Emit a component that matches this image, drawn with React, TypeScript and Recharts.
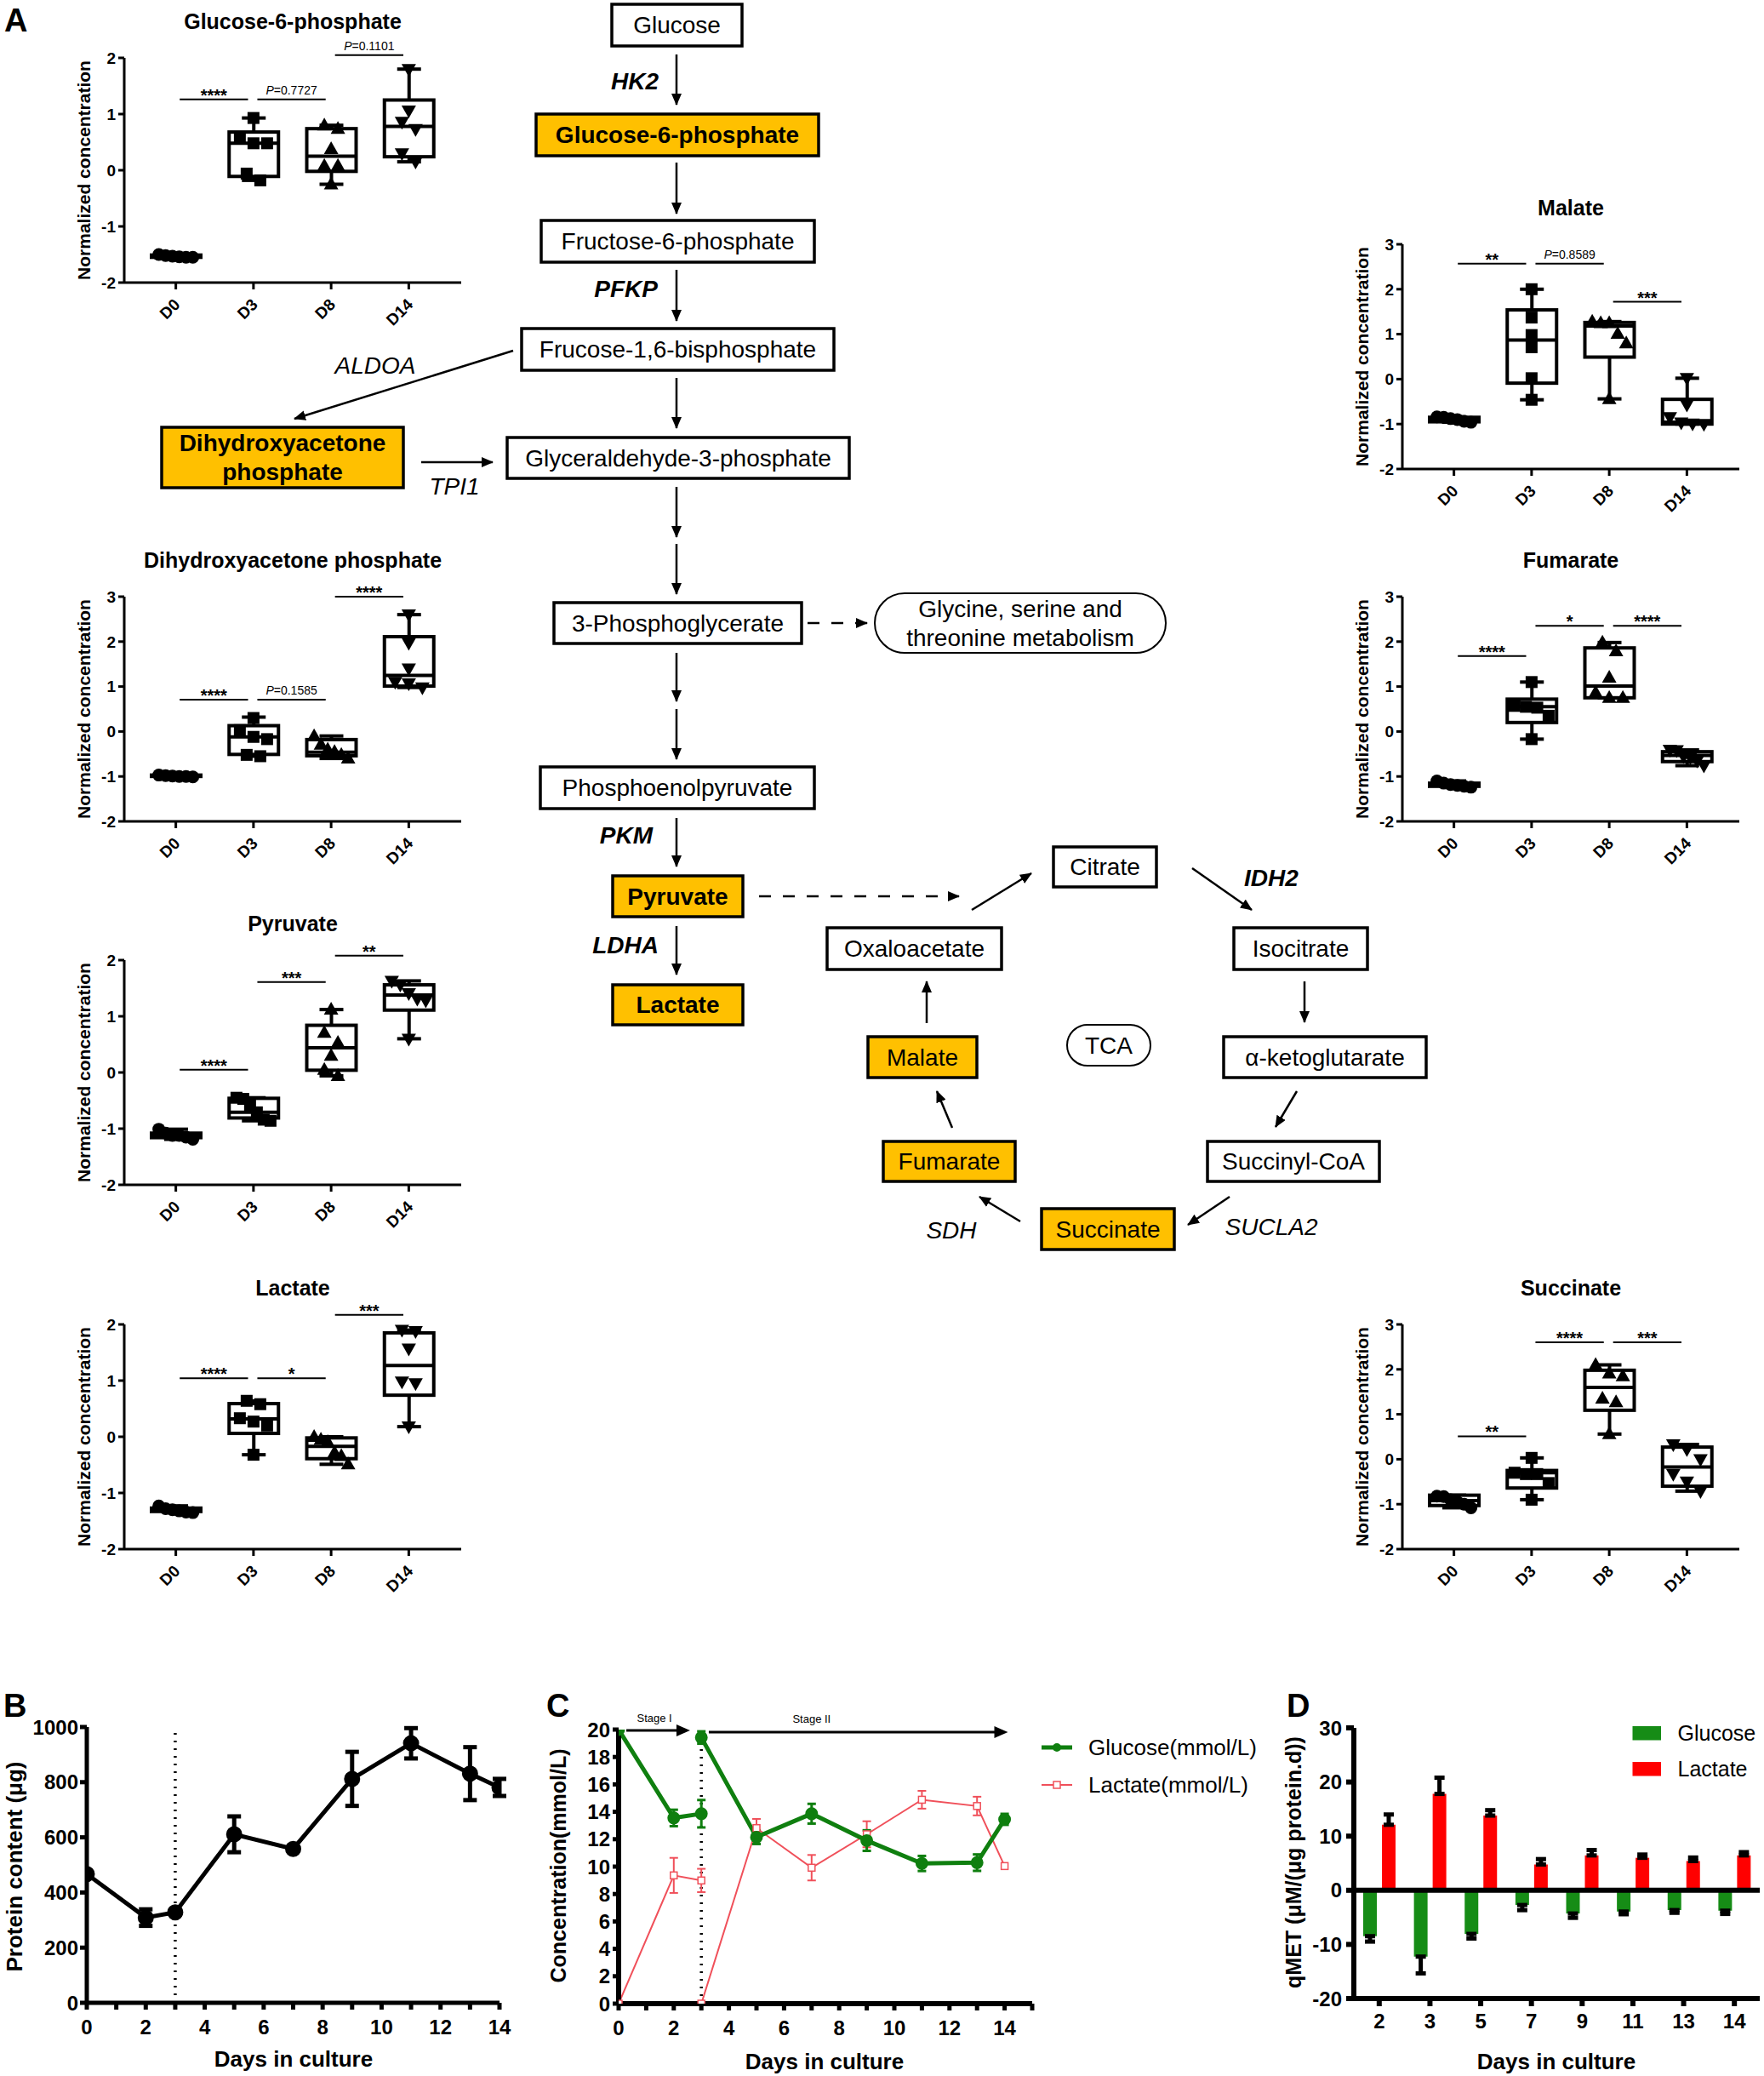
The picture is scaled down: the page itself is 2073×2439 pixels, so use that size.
import React from 'react';
import {
  ComposedChart,
  Bar,
  Scatter,
  XAxis,
  YAxis,
  ReferenceLine,
  ReferenceDot,
  LineChart,
  Line,
  ErrorBar,
  BarChart,
  Legend,
} from 'recharts';

const FONT = '"Liberation Sans", Arial, Helvetica, sans-serif';
const ORANGE = '#FFC000';
const GREEN_C = '#0F7F0F';
const RED_C = '#F0505A';
const GREEN_D = '#168C16';
const RED_D = '#FF0000';

// ---- panel A box plots: points per day, box stats [min, q1, median, q3, max], significance [from, to, y, label]
const days = ['D0', 'D3', 'D8', 'D14'];

const g6pPts = [[-1.5, -1.52, -1.53, -1.54, -1.55, -1.55], [0.93, 0.57, 0.48, 0.48, -0.06, -0.18], [0.8, 0.74, 0.38, 0.08, 0.08, -0.25], [1.8, 1.06, 0.86, 0.73, 0.3, 0.15]];
const g6pBox = [[-1.55, -1.55, -1.53, -1.51, -1.5], [-0.18, -0.11, 0.48, 0.68, 0.93], [-0.25, -0.02, 0.25, 0.74, 0.8], [0.15, 0.24, 0.78, 1.25, 1.8]];
const g6pSig = [[0, 1, 1.26, '****'], [1, 2, 1.26, 'P=0.7727'], [2, 3, 2.05, 'P=0.1101']];

const dhapPts = [[-0.97, -0.98, -0.99, -1.0, -1.0, -1.01], [0.3, 0.03, -0.12, -0.17, -0.52, -0.55], [-0.1, -0.29, -0.4, -0.45, -0.52, -0.6], [2.6, 1.97, 1.4, 1.1, 1.07, 0.98]];
const dhapBox = [[-1.01, -1.0, -0.99, -0.97, -0.97], [-0.55, -0.51, -0.12, 0.13, 0.32], [-0.6, -0.54, -0.46, -0.18, -0.1], [0.98, 1.01, 1.25, 2.11, 2.6]];
const dhapSig = [[0, 1, 0.71, '****'], [1, 2, 0.71, 'P=0.1585'], [2, 3, 3.0, '****']];

const pyrPts = [[-1.01, -1.08, -1.12, -1.12, -1.15, -1.19], [-0.45, -0.47, -0.59, -0.71, -0.84, -0.86], [1.12, 0.71, 0.53, 0.3, 0.05, -0.06], [1.63, 1.56, 1.41, 1.31, 1.28, 0.6]];
const pyrBox = [[-1.19, -1.16, -1.12, -1.08, -1.01], [-0.86, -0.81, -0.71, -0.46, -0.45], [-0.06, 0.04, 0.44, 0.84, 1.12], [0.6, 1.11, 1.38, 1.56, 1.63]];
const pyrSig = [[0, 1, 0.05, '****'], [1, 2, 1.61, '***'], [2, 3, 2.08, '**']];

const lacPts = [[-1.23, -1.28, -1.3, -1.32, -1.34, -1.35], [0.64, 0.58, 0.33, 0.27, 0.2, -0.32], [0.0, -0.05, -0.09, -0.28, -0.34, -0.49], [1.9, 1.88, 1.57, 0.98, 0.95, 0.18]];
const lacBox = [[-1.35, -1.33, -1.3, -1.27, -1.23], [-0.32, 0.06, 0.32, 0.59, 0.64], [-0.49, -0.39, -0.17, -0.02, 0.0], [0.18, 0.74, 1.27, 1.85, 1.9]];
const lacSig = [[0, 1, 1.04, '****'], [1, 2, 1.04, '*'], [2, 3, 2.17, '***']];

const malPts = [[-0.84, -0.85, -0.88, -0.9, -0.94, -0.96], [2.0, 1.37, 0.98, 0.71, 0.02, -0.46], [1.28, 1.25, 1.25, 1.01, 0.8, -0.44], [0.02, -0.57, -0.85, -0.97, -0.99, -1.0]];
const malBox = [[-0.96, -0.95, -0.9, -0.85, -0.84], [-0.46, -0.09, 0.87, 1.54, 2.0], [-0.44, 0.49, 1.18, 1.26, 1.28], [-1.0, -1.0, -0.96, -0.45, 0.02]];
const malSig = [[0, 1, 2.57, '**'], [1, 2, 2.57, 'P=0.8589'], [2, 3, 1.72, '***']];

const fumPts = [[-1.1, -1.15, -1.18, -1.2, -1.22, -1.24], [1.1, 0.57, 0.55, 0.53, 0.35, -0.17], [1.98, 1.79, 1.2, 0.87, 0.75, 0.75], [-0.41, -0.42, -0.55, -0.58, -0.65, -0.76]];
const fumBox = [[-1.24, -1.22, -1.19, -1.15, -1.1], [-0.17, 0.2, 0.55, 0.72, 1.1], [0.75, 0.75, 1.01, 1.86, 1.98], [-0.76, -0.67, -0.53, -0.45, -0.41]];
const fumSig = [[0, 1, 1.68, '****'], [1, 2, 2.35, '*'], [2, 3, 2.35, '****']];

const sucPts = [[-0.82, -0.83, -0.9, -0.95, -1.0, -1.08], [0.03, -0.3, -0.33, -0.33, -0.53, -0.9], [2.1, 1.91, 1.85, 1.35, 1.27, 0.56], [0.33, 0.22, 0.0, -0.33, -0.5, -0.71]];
const sucBox = [[-1.08, -1.03, -0.92, -0.8, -0.8], [-0.9, -0.64, -0.3, -0.25, 0.03], [0.56, 1.09, 1.6, 1.98, 2.1], [-0.71, -0.6, -0.17, 0.27, 0.33]];
const sucSig = [[0, 1, 0.51, '**'], [1, 2, 2.6, '****'], [2, 3, 2.6, '***']];

// ---- panel B
const proteinDays = [0, 2, 3, 5, 7, 9, 11, 13, 14];
const proteinMean = [467, 309, 328, 611, 558, 812, 941, 831, 781];
const proteinSd = [0, 30, 8, 65, 0, 98, 55, 96, 31];

// ---- panel C (stage I and stage II are separate runs)
const gluDays1 = [0, 2, 3];
const gluMean1 = [20.0, 13.55, 13.86];
const gluSd1 = [0, 0.6, 1.0];
const gluDays2 = [3, 5, 7, 9, 11, 13, 14];
const gluMean2 = [19.42, 12.15, 13.86, 11.9, 10.23, 10.29, 13.45];
const gluSd2 = [0.45, 0.5, 0.72, 0.75, 0.55, 0.6, 0.4];
const lacDays1 = [0, 2, 3];
const lacMean1 = [0, 9.36, 8.99];
const lacSd1 = [0, 1.28, 0.85];
const lacDays2 = [3, 5, 7, 9, 11, 13, 14];
const lacMean2 = [0, 12.81, 9.92, 12.36, 14.88, 14.42, 10.04];
const lacSd2 = [0, 0.67, 0.93, 0.95, 0.65, 0.68, 0];

// ---- panel D
const rateDays = ['2', '3', '5', '7', '9', '11', '13', '14'];
const gluRate = [-8.48, -12.25, -8.06, -2.72, -4.29, -3.93, -3.66, -3.77];
const gluRateErr = [1.0, 3.1, 0.85, 0.95, 0.8, 0.5, 0.5, 0.6];
const lacRate = [12.1, 17.8, 13.8, 4.76, 6.44, 6.0, 5.4, 6.44];
const lacRateErr = [1.9, 3.0, 1.0, 1.0, 1.0, 0.6, 0.65, 0.6];

const blackAxis = (w: number) => ({ stroke: '#000', strokeWidth: w });

function swarm(vals: number[], thr: number): number[] {
  const idx = vals.map((_, i) => i).sort((a, b) => vals[b] - vals[a]);
  const out = new Array(vals.length).fill(0);
  let start = 0;
  for (let k = 1; k <= idx.length; k++) {
    if (k === idx.length || vals[idx[k - 1]] - vals[idx[k]] > thr) {
      const grp = idx.slice(start, k);
      const n = grp.length;
      const sp = n > 1 ? Math.min(16, 40 / (n - 1)) : 0;
      grp.forEach((g, m) => {
        out[g] = (m - (n - 1) / 2) * sp;
      });
      start = k;
    }
  }
  return out;
}

function marker(kind: number, x: number, y: number) {
  if (kind === 0) return <circle cx={x} cy={y} r={7.5} fill="#000" />;
  if (kind === 1) return <rect x={x - 7} y={y - 7} width={14} height={14} fill="#000" />;
  if (kind === 2) return <path d={`M${x},${y - 9} L${x + 8.5},${y + 6} L${x - 8.5},${y + 6} Z`} fill="#000" />;
  return <path d={`M${x},${y + 9} L${x + 8.5},${y - 6} L${x - 8.5},${y - 6} Z`} fill="#000" />;
}

const BoxShape = (props: any) => {
  const { x, y, width, height, payload } = props;
  const [mn, q1, md, q3, mx] = payload.stats;
  const top = Math.min(y, y + height);
  const bot = Math.max(y, y + height);
  const py = (v: number) => (mx === mn ? top : bot - ((v - mn) / (mx - mn)) * (bot - top));
  const cx = x + width / 2;
  const sw = 4;
  return (
    <g>
      <line x1={cx} x2={cx} y1={py(mx)} y2={py(q3)} stroke="#000" strokeWidth={sw} />
      <line x1={cx} x2={cx} y1={py(q1)} y2={py(mn)} stroke="#000" strokeWidth={sw} />
      <line x1={cx - 14} x2={cx + 14} y1={py(mx)} y2={py(mx)} stroke="#000" strokeWidth={sw} />
      <line x1={cx - 14} x2={cx + 14} y1={py(mn)} y2={py(mn)} stroke="#000" strokeWidth={sw} />
      <rect x={x + 2} y={py(q3)} width={width - 4} height={Math.max(py(q1) - py(q3), 0.5)} fill="#fff" stroke="#000" strokeWidth={sw} />
      <line x1={x + 2} x2={x + width - 2} y1={py(md)} y2={py(md)} stroke="#000" strokeWidth={sw} />
    </g>
  );
};

const pointShape = (i: number, thr: number) => (props: any) => {
  const { cx, cy, payload } = props;
  if (cx == null || cy == null) return <g />;
  const off = swarm(payload.pts, thr)[i];
  return marker(days.indexOf(payload.day), cx + off, cy);
};

const sigShape = (label: string) => (props: any) => {
  const { cx, cy } = props;
  if (label.startsWith('P=')) {
    return (
      <text x={cx} y={cy - 6} textAnchor="middle" fontSize={14} fill="#000">
        <tspan fontStyle="italic">P</tspan>
        {label.slice(1)}
      </text>
    );
  }
  return (
    <text x={cx} y={cy + 2} textAnchor="middle" fontSize={20} fontWeight={700} fill="#000">
      {label}
    </text>
  );
};

const RotTick = (props: any) => {
  const { x, y, payload } = props;
  const ax = x + 6;
  const ay = y + 17;
  return (
    <text x={ax} y={ay} transform={`rotate(-45 ${ax} ${ay})`} textAnchor="end" fontSize={19} fontWeight={700} fill="#000">
      {payload.value}
    </text>
  );
};

const Txt = ({ x, y, size, bold, rotate, children }: any) => (
  <div
    style={{
      position: 'absolute',
      left: x,
      top: y,
      transform: `translate(-50%, -50%)${rotate ? ' rotate(-90deg)' : ''}`,
      fontSize: size,
      fontWeight: bold ? 700 : 400,
      whiteSpace: 'nowrap',
      lineHeight: 1,
    }}
  >
    {children}
  </div>
);

function BoxPlot({ title, pts, box, sig, yMax, px, py }: any) {
  const W = 396;
  const H = 264;
  const rows = days.map((d, i) => ({ day: d, range: [box[i][0], box[i][4]], stats: box[i], pts: pts[i] }));
  const ticks = yMax === 3 ? [-2, -1, 0, 1, 2, 3] : [-2, -1, 0, 1, 2];
  const thr = (13 * (yMax + 2)) / H;
  const pad = { left: 15, right: 16 };
  const bw = (W - pad.left - pad.right) / days.length;
  // hidden numeric axis whose 0..3 sit on the band centres, used for the significance bars
  const padS = { left: pad.left + bw / 2, right: pad.right + bw / 2 };
  return (
    <div style={{ position: 'absolute', left: px - 100, top: py - 70, width: W + 120, height: H + 140 }}>
      <Txt x={100 + W / 2} y={27} size={25} bold>
        {title}
      </Txt>
      <Txt x={52} y={70 + H / 2} size={21} bold rotate>
        Normalized concentration
      </Txt>
      <ComposedChart width={W + 120} height={H + 140} data={rows} margin={{ top: 70, right: 20, left: 0, bottom: 0 }}>
        <XAxis
          dataKey="day"
          type="category"
          padding={pad}
          axisLine={blackAxis(3)}
          tickLine={blackAxis(3)}
          tickSize={8}
          tick={<RotTick />}
          height={70}
          interval={0}
        />
        <XAxis xAxisId="s" type="number" domain={[0, 3]} padding={padS} hide allowDataOverflow />
        <YAxis
          domain={[-2, yMax]}
          ticks={ticks}
          allowDataOverflow
          width={100}
          axisLine={blackAxis(3)}
          tickLine={blackAxis(3)}
          tickSize={7}
          tickMargin={3}
          tick={{ fontSize: 19, fontWeight: 700, fill: '#000' }}
          interval={0}
        />
        <Bar dataKey="range" barSize={62} shape={BoxShape} isAnimationActive={false} />
        {[0, 1, 2, 3, 4, 5].map((i) => (
          <Scatter key={i} dataKey={(r: any) => r.pts[i]} shape={pointShape(i, thr)} isAnimationActive={false} />
        ))}
        {sig.map((s: any, k: number) => (
          <ReferenceLine
            key={'l' + k}
            xAxisId="s"
            ifOverflow="visible"
            segment={[
              { x: s[0] + 0.05, y: s[2] },
              { x: s[1] - 0.07, y: s[2] },
            ]}
            stroke="#000"
            strokeWidth={2}
          />
        ))}
        {sig.map((s: any, k: number) => (
          <ReferenceDot
            key={'d' + k}
            xAxisId="s"
            ifOverflow="visible"
            x={(s[0] + s[1]) / 2 - 0.01}
            y={s[2]}
            shape={sigShape(s[3])}
          />
        ))}
      </ComposedChart>
    </div>
  );
}

function ProteinChart() {
  const rows = proteinDays.map((d, i) => ({ day: d, mean: proteinMean[i], sd: proteinSd[i] }));
  return (
    <div style={{ position: 'absolute', left: 0, top: 1999, width: 620, height: 414 }}>
      <LineChart width={620} height={414} data={rows} margin={{ top: 30, right: 33, left: 0, bottom: 0 }}>
        <XAxis
          dataKey="day"
          type="number"
          domain={[0, 14]}
          allowDataOverflow
          ticks={[0, 1, 2, 3, 4, 5, 6, 7, 8, 9, 10, 11, 12, 13, 14]}
          tickFormatter={(v: number) => (v % 2 === 0 ? String(v) : '')}
          interval={0}
          axisLine={blackAxis(5)}
          tickLine={blackAxis(5)}
          tickSize={8}
          tickMargin={12}
          tick={{ fontSize: 24, fontWeight: 700, fill: '#000' }}
          height={60}
        />
        <YAxis
          domain={[0, 1000]}
          ticks={[0, 200, 400, 600, 800, 1000]}
          allowDataOverflow
          width={102}
          axisLine={blackAxis(5)}
          tickLine={blackAxis(5)}
          tickSize={8}
          tickMargin={2}
          tick={{ fontSize: 24, fontWeight: 700, fill: '#000' }}
          interval={0}
        />
        <ReferenceLine x={3} stroke="#000" strokeWidth={3.5} strokeDasharray="2 7" />
        <Line dataKey="mean" stroke="#000" strokeWidth={5} dot={{ r: 7, fill: '#000', stroke: '#000' }} isAnimationActive={false}>
          <ErrorBar dataKey="sd" width={8} stroke="#000" strokeWidth={5} />
        </Line>
      </LineChart>
    </div>
  );
}

const OpenSquare = (p: any) =>
  p.cx == null ? <g key={p.key} /> : <rect key={p.key} x={p.cx - 4} y={p.cy - 4} width={8} height={8} fill="#fff" stroke={RED_C} strokeWidth={1.5} />;

const Arrowhead = (p: any) => (p.cx == null ? <g /> : <path d={`M${p.cx},${p.cy} L${p.cx - 16},${p.cy - 7} L${p.cx - 16},${p.cy + 7} Z`} fill="#000" />);

const stageText = (t: string) => (p: any) =>
  p.cx == null ? <g /> : (
    <text x={p.cx} y={p.cy} textAnchor="middle" fontSize={13} fill="#000">
      {t}
    </text>
  );

const ConcLegend = () => (
  <svg width={270} height={90}>
    <line x1={4} x2={40} y1={23} y2={23} stroke={GREEN_C} strokeWidth={5} />
    <circle cx={22} cy={23} r={5} fill={GREEN_C} />
    <text x={59} y={23} dominantBaseline="central" fontSize={26} fill="#000" fontFamily={FONT}>
      Glucose(mmol/L)
    </text>
    <line x1={4} x2={40} y1={67} y2={67} stroke={RED_C} strokeWidth={2} />
    <rect x={18} y={63} width={8} height={8} fill="#fff" stroke={RED_C} strokeWidth={1.5} />
    <text x={59} y={67} dominantBaseline="central" fontSize={26} fill="#000" fontFamily={FONT}>
      Lactate(mmol/L)
    </text>
  </svg>
);

function ConcChart() {
  const mk = (ds: number[], ms: number[], ss: number[]) => ds.map((d, i) => ({ day: d, v: ms[i], sd: ss[i] }));
  const g1 = mk(gluDays1, gluMean1, gluSd1);
  const g2 = mk(gluDays2, gluMean2, gluSd2);
  const l1 = mk(lacDays1, lacMean1, lacSd1);
  const l2 = mk(lacDays2, lacMean2, lacSd2);
  const gDot = { r: 5, fill: GREEN_C, stroke: GREEN_C };
  return (
    <div style={{ position: 'absolute', left: 640, top: 2002, width: 860, height: 412 }}>
      <LineChart width={860} height={412} margin={{ top: 30, right: 287, left: 0, bottom: 0 }}>
        <XAxis
          dataKey="day"
          type="number"
          domain={[0, 15]}
          allowDataOverflow
          ticks={[0, 1, 2, 3, 4, 5, 6, 7, 8, 9, 10, 11, 12, 13, 14, 15]}
          tickFormatter={(v: number) => (v % 2 === 0 && v <= 14 ? String(v) : '')}
          interval={0}
          axisLine={blackAxis(6)}
          tickLine={blackAxis(5)}
          tickSize={8}
          tickMargin={12}
          tick={{ fontSize: 24, fontWeight: 700, fill: '#000' }}
          height={60}
        />
        <YAxis
          domain={[0, 20]}
          ticks={[0, 2, 4, 6, 8, 10, 12, 14, 16, 18, 20]}
          allowDataOverflow
          width={87}
          axisLine={blackAxis(6)}
          tickLine={blackAxis(5)}
          tickSize={7}
          tickMargin={3}
          tick={{ fontSize: 24, fontWeight: 700, fill: '#000' }}
          interval={0}
        />
        <ReferenceLine x={3} stroke="#000" strokeWidth={3.5} strokeDasharray="2 7" />
        <ReferenceLine ifOverflow="visible" segment={[{ x: 0.28, y: 19.94 }, { x: 2.2, y: 19.94 }]} stroke="#000" strokeWidth={3} />
        <ReferenceDot ifOverflow="visible" x={2.59} y={19.94} shape={Arrowhead} />
        <ReferenceLine ifOverflow="visible" segment={[{ x: 3.27, y: 19.81 }, { x: 13.7, y: 19.81 }]} stroke="#000" strokeWidth={3} />
        <ReferenceDot ifOverflow="visible" x={14.12} y={19.81} shape={Arrowhead} />
        <ReferenceDot ifOverflow="visible" x={1.3} y={20.55} shape={stageText('Stage I')} />
        <ReferenceDot ifOverflow="visible" x={7.0} y={20.5} shape={stageText('Stage II')} />
        <Line data={l1} dataKey="v" stroke={RED_C} strokeWidth={2} dot={OpenSquare} isAnimationActive={false}>
          <ErrorBar dataKey="sd" width={5} stroke={RED_C} strokeWidth={2} />
        </Line>
        <Line data={l2} dataKey="v" stroke={RED_C} strokeWidth={2} dot={OpenSquare} isAnimationActive={false}>
          <ErrorBar dataKey="sd" width={5} stroke={RED_C} strokeWidth={2} />
        </Line>
        <Line data={g1} dataKey="v" stroke={GREEN_C} strokeWidth={5} dot={gDot} isAnimationActive={false}>
          <ErrorBar dataKey="sd" width={5} stroke={GREEN_C} strokeWidth={3} />
        </Line>
        <Line data={g2} dataKey="v" stroke={GREEN_C} strokeWidth={5} dot={gDot} isAnimationActive={false}>
          <ErrorBar dataKey="sd" width={5} stroke={GREEN_C} strokeWidth={3} />
        </Line>
        <Legend layout="vertical" align="center" verticalAlign="middle" wrapperStyle={{ left: 580, top: 28, width: 270 }} content={() => <ConcLegend />} />
      </LineChart>
    </div>
  );
}

const RateLegend = () => (
  <svg width={160} height={80}>
    <rect x={3.5} y={8} width={33.5} height={16.5} fill={GREEN_D} />
    <text x={56.5} y={16} dominantBaseline="central" fontSize={25} fill="#000" fontFamily={FONT}>
      Glucose
    </text>
    <rect x={3.5} y={50} width={33.5} height={16.5} fill={RED_D} />
    <text x={56.5} y={58} dominantBaseline="central" fontSize={25} fill="#000" fontFamily={FONT}>
      Lactate
    </text>
  </svg>
);

function RateChart() {
  const rows = rateDays.map((d, i) => ({
    day: d,
    glu: gluRate[i],
    lac: lacRate[i],
    gluErr: [gluRateErr[i], 0],
    lacErr: [0, lacRateErr[i]],
  }));
  return (
    <div style={{ position: 'absolute', left: 1500, top: 2000, width: 573, height: 408 }}>
      <BarChart width={573} height={408} data={rows} margin={{ top: 30, right: 5, left: 0, bottom: 0 }} barGap={6}>
        <XAxis
          dataKey="day"
          interval={0}
          axisLine={blackAxis(6)}
          tickLine={blackAxis(6)}
          tickSize={9}
          tickMargin={9}
          tick={{ fontSize: 24, fontWeight: 700, fill: '#000' }}
          height={60}
        />
        <YAxis
          domain={[-20, 30]}
          ticks={[-20, -10, 0, 10, 20, 30]}
          allowDataOverflow
          width={91}
          axisLine={blackAxis(6)}
          tickLine={blackAxis(6)}
          tickSize={9}
          tickMargin={5}
          tick={{ fontSize: 24, fontWeight: 700, fill: '#000' }}
          interval={0}
        />
        <Bar dataKey="glu" fill={GREEN_D} barSize={16} isAnimationActive={false}>
          <ErrorBar dataKey="gluErr" width={6} stroke="#000" strokeWidth={5} />
        </Bar>
        <Bar dataKey="lac" fill={RED_D} barSize={16} isAnimationActive={false}>
          <ErrorBar dataKey="lacErr" width={6} stroke="#000" strokeWidth={5} />
        </Bar>
        <ReferenceLine y={0} stroke="#000" strokeWidth={6} />
        <Legend layout="vertical" align="center" verticalAlign="middle" wrapperStyle={{ left: 415, top: 20, width: 160 }} content={() => <RateLegend />} />
      </BarChart>
    </div>
  );
}

function Pathway() {
  const nodes = [
    { t: ['Glucose'], x: 719, y: 5, w: 153, h: 49 },
    { t: ['Glucose-6-phosphate'], x: 630, y: 134, w: 332, h: 49, hl: true, b: true },
    { t: ['Fructose-6-phosphate'], x: 636, y: 259, w: 321, h: 49 },
    { t: ['Frucose-1,6-bisphosphate'], x: 613, y: 386, w: 367, h: 49 },
    { t: ['Dihydroxyacetone', 'phosphate'], x: 190, y: 502, w: 284, h: 71, hl: true, b: true },
    { t: ['Glyceraldehyde-3-phosphate'], x: 596, y: 514, w: 402, h: 48 },
    { t: ['3-Phosphoglycerate'], x: 651, y: 708, w: 291, h: 48 },
    { t: ['Glycine, serine and', 'threonine metabolism'], x: 1028, y: 697, w: 342, h: 70, r: 35 },
    { t: ['Phosphoenolpyruvate'], x: 635, y: 901, w: 322, h: 49 },
    { t: ['Pyruvate'], x: 720, y: 1029, w: 153, h: 48, hl: true, b: true },
    { t: ['Lactate'], x: 720, y: 1157, w: 153, h: 47, hl: true, b: true },
    { t: ['Citrate'], x: 1238, y: 995, w: 121, h: 47 },
    { t: ['Isocitrate'], x: 1450, y: 1090, w: 157, h: 49 },
    { t: ['α-ketoglutarate'], x: 1438, y: 1218, w: 238, h: 48 },
    { t: ['Succinyl-CoA'], x: 1419, y: 1341, w: 202, h: 47 },
    { t: ['Succinate'], x: 1224, y: 1420, w: 156, h: 48, hl: true },
    { t: ['Fumarate'], x: 1038, y: 1341, w: 155, h: 47, hl: true },
    { t: ['Malate'], x: 1020, y: 1218, w: 128, h: 48, hl: true },
    { t: ['Oxaloacetate'], x: 972, y: 1090, w: 205, h: 49 },
    { t: ['TCA'], x: 1254, y: 1204, w: 98, h: 48, r: 24 },
  ];
  const arrows = [
    [795, 64, 795, 123],
    [795, 191, 795, 251],
    [795, 317, 795, 377],
    [603, 412, 346, 492],
    [795, 444, 795, 503],
    [495, 543, 579, 543],
    [795, 572, 795, 631],
    [795, 639, 795, 698],
    [795, 767, 795, 824],
    [795, 833, 795, 892],
    [795, 961, 795, 1018],
    [795, 1088, 795, 1145],
    [1142, 1069, 1212, 1026],
    [1401, 1020, 1471, 1069],
    [1533, 1153, 1533, 1201],
    [1524, 1282, 1499, 1324],
    [1445, 1406, 1396, 1439],
    [1199, 1435, 1151, 1406],
    [1119, 1325, 1101, 1282],
    [1089, 1202, 1089, 1153],
  ];
  const dashed = [
    [949, 732, 1019, 732],
    [892, 1053, 1127, 1053],
  ];
  const enz = [
    { t: 'HK2', x: 774, y: 95, b: true, a: 'end' },
    { t: 'PFKP', x: 773, y: 339, b: true, a: 'end' },
    { t: 'ALDOA', x: 441, y: 429 },
    { t: 'TPI1', x: 534, y: 571 },
    { t: 'PKM', x: 767, y: 981, b: true, a: 'end' },
    { t: 'LDHA', x: 774, y: 1110, b: true, a: 'end' },
    { t: 'IDH2', x: 1494, y: 1031, b: true },
    { t: 'SUCLA2', x: 1494, y: 1441 },
    { t: 'SDH', x: 1118, y: 1445 },
  ];
  return (
    <svg width={2073} height={2439} style={{ position: 'absolute', left: 0, top: 0 }} fontFamily={FONT}>
      <defs>
        <marker id="pw-ah" viewBox="0 0 14 12" refX={13} refY={6} markerWidth={14} markerHeight={12} markerUnits="userSpaceOnUse" orient="auto">
          <path d="M0,0 L14,6 L0,12 Z" fill="#000" />
        </marker>
      </defs>
      {nodes.map((n: any, i) => (
        <g key={i}>
          <rect
            x={n.x}
            y={n.y}
            width={n.w}
            height={n.h}
            rx={n.r || 0}
            fill={n.hl ? ORANGE : '#fff'}
            stroke="#000"
            strokeWidth={n.r ? 2 : 3.5}
          />
          {n.t.map((line: string, k: number) => (
            <text
              key={k}
              x={n.x + n.w / 2}
              y={n.y + n.h / 2 + (k - (n.t.length - 1) / 2) * 34}
              textAnchor="middle"
              dominantBaseline="central"
              fontSize={28}
              fontWeight={n.b ? 700 : 400}
              fill="#000"
            >
              {line}
            </text>
          ))}
        </g>
      ))}
      {arrows.map((a, i) => (
        <line key={i} x1={a[0]} y1={a[1]} x2={a[2]} y2={a[3]} stroke="#000" strokeWidth={2.5} markerEnd="url(#pw-ah)" />
      ))}
      {dashed.map((a, i) => (
        <line key={'d' + i} x1={a[0]} y1={a[1]} x2={a[2]} y2={a[3]} stroke="#000" strokeWidth={2.5} strokeDasharray="14 14" markerEnd="url(#pw-ah)" />
      ))}
      {enz.map((e: any, i) => (
        <text
          key={'e' + i}
          x={e.x}
          y={e.y}
          textAnchor={e.a || 'middle'}
          dominantBaseline="central"
          fontSize={28}
          fontStyle="italic"
          fontWeight={e.b ? 700 : 400}
          fill="#000"
        >
          {e.t}
        </text>
      ))}
    </svg>
  );
}

const Letter = ({ x, y, children }: any) => (
  <div style={{ position: 'absolute', left: x, top: y, fontSize: 38, fontWeight: 700, lineHeight: 1.2 }}>{children}</div>
);

export default function App() {
  return (
    <div
      style={{
        position: 'absolute',
        left: 0,
        top: 0,
        width: 2073,
        height: 2439,
        overflow: 'hidden',
        background: '#fff',
        fontFamily: FONT,
        color: '#000',
      }}
    >
      <Pathway />
      <Letter x={5} y={2}>A</Letter>
      <BoxPlot title="Glucose-6-phosphate" pts={g6pPts} box={g6pBox} sig={g6pSig} yMax={2} px={146} py={68} />
      <BoxPlot title="Dihydroxyacetone phosphate" pts={dhapPts} box={dhapBox} sig={dhapSig} yMax={3} px={146} py={701} />
      <BoxPlot title="Pyruvate" pts={pyrPts} box={pyrBox} sig={pyrSig} yMax={2} px={146} py={1128} />
      <BoxPlot title="Lactate" pts={lacPts} box={lacBox} sig={lacSig} yMax={2} px={146} py={1556} />
      <BoxPlot title="Malate" pts={malPts} box={malBox} sig={malSig} yMax={3} px={1648} py={287} />
      <BoxPlot title="Fumarate" pts={fumPts} box={fumBox} sig={fumSig} yMax={3} px={1648} py={701} />
      <BoxPlot title="Succinate" pts={sucPts} box={sucBox} sig={sucSig} yMax={3} px={1648} py={1556} />

      <Letter x={4} y={1982}>B</Letter>
      <ProteinChart />
      <Txt x={17} y={2193} size={26} bold rotate>
        Protein content (μg)
      </Txt>
      <Txt x={345} y={2419} size={26} bold>
        Days in culture
      </Txt>

      <Letter x={642} y={1982}>C</Letter>
      <ConcChart />
      <Txt x={656} y={2192} size={25} bold rotate>
        Concentration(mmol/L)
      </Txt>
      <Txt x={969} y={2422} size={26} bold>
        Days in culture
      </Txt>

      <Letter x={1512} y={1982}>D</Letter>
      <RateChart />
      <Txt x={1520} y={2188} size={25} bold rotate>
        qMET (μM/(μg protein.d))
      </Txt>
      <Txt x={1829} y={2422} size={26} bold>
        Days in culture
      </Txt>
    </div>
  );
}
